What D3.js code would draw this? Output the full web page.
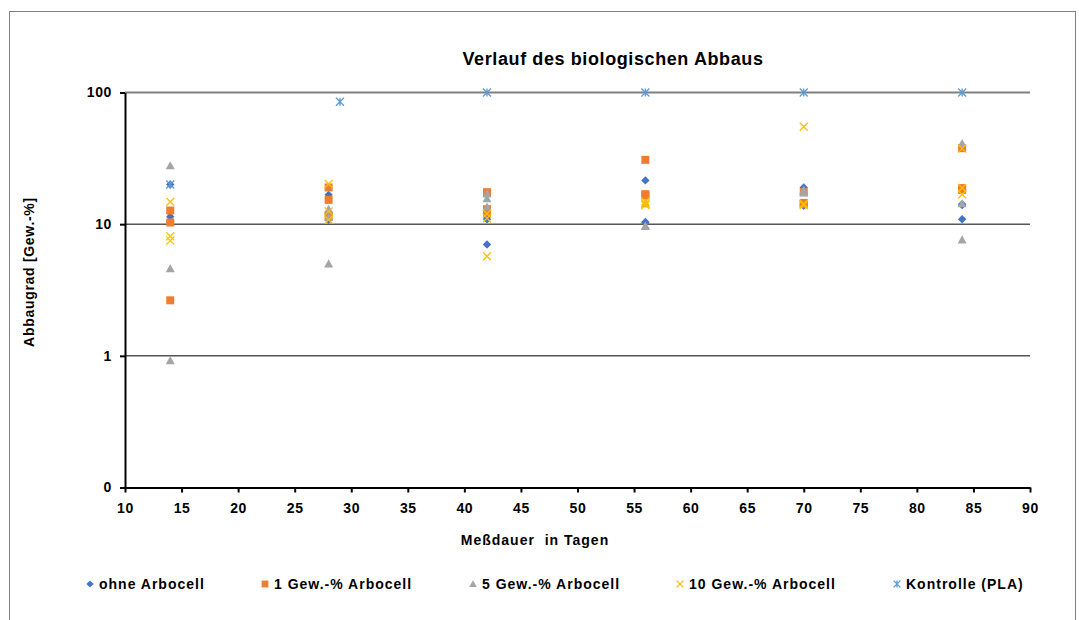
<!DOCTYPE html>
<html><head><meta charset="utf-8">
<script src="https://cdn.jsdelivr.net/npm/d3@7"></script>
<style>body{margin:0;background:#fff;} text{font-family:"Liberation Sans",Arial,sans-serif;font-weight:bold;}</style>
</head><body>
<svg id="c" width="1079" height="620"></svg>
<script>
const days = [14, 28, 42, 56, 70, 84];
const ohneArbocell = [[20.0, 11.4, 10.5],[16.7, 12.0, 10.8],[11.3, 10.9, 7.0],[21.5, 10.4, 10.2],[19.0, 14.0, 13.8],[14.0, 10.9, 14.2]];
const gew1 = [[12.7, 10.3, 2.64],[19.0, 15.3, 11.6],[17.5, 13.0, 12.3],[30.8, 16.9, 16.5],[17.5, 14.5, 14.2],[37.8, 18.8, 18.2]];
const gew5 = [[27.8, 4.6, 0.92],[13.0, 11.3, 5.0],[17.0, 15.6, 13.5],[14.3, 9.7, 9.6],[18.2, 17.8, 17.3],[41.0, 14.3, 7.6]];
const gew10 = [[14.8, 8.1, 7.5],[20.2, 12.5, 10.8],[12.0, 11.1, 5.7],[14.9, 14.0, 14.3],[55.0, 14.0, 14.3],[37.5, 18.8, 16.8]];
const kontrolleDays = [14, 29, 42, 56, 70, 84];
const kontrolle = [20.0, 85.0, 100, 100, 100, 100];
const xTicks = [10,15,20,25,30,35,40,45,50,55,60,65,70,75,80,85,90];
const yTicks = [0.1, 1, 10, 100];
const yTickLabels = ["0", "1", "10", "100"];
const seriesNames = ["ohne Arbocell", "1 Gew.-% Arbocell", "5 Gew.-% Arbocell", "10 Gew.-% Arbocell", "Kontrolle (PLA)"];

const svg = d3.select("#c");
const x = d3.scaleLinear().domain([10, 90]).range([125, 1030]);
const y = d3.scaleLog().domain([0.1, 100]).range([487.5, 92.5]);

// frame
svg.append("rect").attr("x", 9.5).attr("y", 11.5).attr("width", 1066).attr("height", 640)
  .attr("fill", "none").attr("stroke", "#7f7f7f").attr("stroke-width", 1);

// title
svg.append("text").attr("x", 613).attr("y", 64.5).attr("text-anchor", "middle")
  .attr("font-size", 18).attr("letter-spacing", 0.6).attr("fill", "#000").text("Verlauf des biologischen Abbaus");

// gridlines
[1, 10, 100].forEach(v => {
  svg.append("line").attr("x1", x(10)).attr("x2", x(90)).attr("y1", y(v)).attr("y2", y(v))
    .attr("stroke", v === 100 ? "#808080" : "#000").attr("stroke-width", v === 100 ? 2 : 1);
});

// axes
const xAxis = d3.axisBottom(x).tickValues(xTicks).tickSize(5).tickSizeOuter(0).tickFormat(d3.format("d"));
const gx = svg.append("g").attr("transform", `translate(0,${y(0.1)})`).call(xAxis);
gx.select(".domain").attr("stroke", "#000").attr("stroke-width", 2);
gx.selectAll(".tick line").attr("stroke", "#000").attr("stroke-width", 2);
gx.selectAll(".tick text").attr("font-size", 14).attr("letter-spacing", 0.6).attr("fill", "#000").attr("y", 25).attr("dy", 0)
  .style("font-family", "Liberation Sans, Arial, sans-serif").style("font-weight", "bold");

const yAxis = d3.axisLeft(y).tickValues(yTicks).tickSize(5).tickSizeOuter(0).tickFormat((d, i) => yTickLabels[i]);
const gy = svg.append("g").attr("transform", `translate(${x(10)},0)`).call(yAxis);
gy.select(".domain").attr("stroke", "#000").attr("stroke-width", 2);
gy.selectAll(".tick line").attr("stroke", "#000").attr("stroke-width", 2);
gy.selectAll(".tick text").attr("font-size", 14).attr("letter-spacing", 0.6).attr("fill", "#000").attr("x", -13)
  .style("font-family", "Liberation Sans, Arial, sans-serif").style("font-weight", "bold");

// axis titles
svg.append("text").attr("x", 535).attr("y", 545).attr("text-anchor", "middle").attr("font-size", 14)
  .attr("letter-spacing", 1.0).style("white-space", "pre").text("Meßdauer  in Tagen");
svg.append("text").attr("transform", "translate(34,272) rotate(-90)").attr("text-anchor", "middle")
  .attr("font-size", 14).attr("letter-spacing", 0.7).text("Abbaugrad [Gew.-%]");

// marker drawers
const colors = ["#4472C4", "#ED7D31", "#A5A5A5", "#FFC000", "#5B9BD5"];
function marker(g, type, cx, cy, s) {
  s = s || 1;
  if (type === 0) {
    const r = 4.2 * s;
    g.append("path").attr("d", `M${cx},${cy - r}L${cx + r},${cy}L${cx},${cy + r}L${cx - r},${cy}Z`).attr("fill", colors[0]);
  } else if (type === 1) {
    const r = 4 * s;
    g.append("rect").attr("x", cx - r).attr("y", cy - r).attr("width", 2 * r).attr("height", 2 * r).attr("fill", colors[1]);
  } else if (type === 2) {
    const r = 4.5 * s;
    g.append("path").attr("d", `M${cx},${cy - r}L${cx + r},${cy + r * 0.8}L${cx - r},${cy + r * 0.8}Z`).attr("fill", colors[2]);
  } else if (type === 3) {
    const r = 4 * s;
    g.append("path").attr("d", `M${cx - r},${cy - r}L${cx + r},${cy + r}M${cx + r},${cy - r}L${cx - r},${cy + r}`)
      .attr("stroke", colors[3]).attr("stroke-width", 1.3).attr("fill", "none");
  } else {
    const r = 4 * s;
    g.append("path").attr("d", `M${cx - r},${cy - r}L${cx + r},${cy + r}M${cx + r},${cy - r}L${cx - r},${cy + r}M${cx},${cy - r}L${cx},${cy + r}`)
      .attr("stroke", colors[4]).attr("stroke-width", 1.3).attr("fill", "none");
  }
}

const plot = svg.append("g");
[ohneArbocell, gew1, gew5, gew10].forEach((series, si) => {
  series.forEach((vals, di) => {
    vals.forEach(v => marker(plot, si, x(days[di]), y(v)));
  });
});
kontrolle.forEach((v, i) => marker(plot, 4, x(kontrolleDays[i]), y(v)));

// legend
const legendX = [90, 265, 473, 680, 897];
const lg = svg.append("g");
seriesNames.forEach((n, i) => {
  marker(lg, i, legendX[i], 584, 0.85);
  lg.append("text").attr("x", legendX[i] + 9).attr("y", 589).attr("font-size", 14).attr("letter-spacing", 1.0)
    .attr("fill", "#000").text(n);
});
</script>
</body></html>
